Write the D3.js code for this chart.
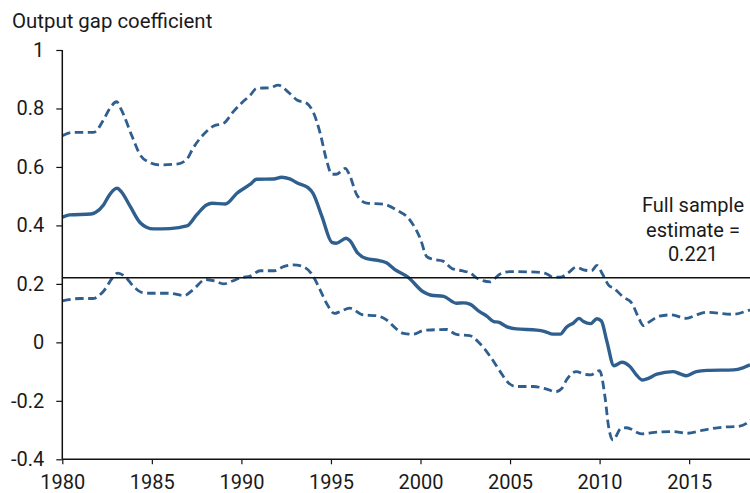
<!DOCTYPE html>
<html>
<head>
<meta charset="utf-8">
<script src="https://cdn.jsdelivr.net/npm/d3@7"></script>
<style>
  body { margin: 0; background: #fff; }
  svg text { font-family: Roboto, "Noto Sans", sans-serif; fill: #1a1a1a; }
</style>
</head>
<body>
<div id="chart"></div>
<script>
// rolling estimate of the output gap coefficient, with upper and lower bands
var midYears = [1980.0, 1980.4, 1981.6, 1981.85, 1982.3, 1982.65, 1983.05, 1983.3, 1983.8, 1984.35, 1984.7, 1985.1, 1986.0, 1986.95, 1987.5, 1988.05, 1988.35, 1989.1, 1989.75, 1990.5, 1990.85, 1991.8, 1992.25, 1992.7, 1993.15, 1993.7, 1994.0, 1994.5, 1995.05, 1995.3, 1995.85, 1996.05, 1996.5, 1996.95, 1997.75, 1998.1, 1998.55, 1999.3, 2000.15, 2000.55, 2001.3, 2002.0, 2002.4, 2002.75, 2003.3, 2003.7, 2004.1, 2004.35, 2004.8, 2005.35, 2006.5, 2006.95, 2007.4, 2007.8, 2008.15, 2008.55, 2008.85, 2009.1, 2009.5, 2009.85, 2010.1, 2010.4, 2010.8, 2011.25, 2011.7, 2012.05, 2012.4, 2012.6, 2013.2, 2014.1, 2014.5, 2014.85, 2015.4, 2016.0, 2017.5, 2018.0, 2018.4];
var midVals = [0.428, 0.436, 0.439, 0.444, 0.470, 0.506, 0.527, 0.515, 0.464, 0.409, 0.394, 0.388, 0.389, 0.398, 0.436, 0.470, 0.476, 0.473, 0.510, 0.541, 0.558, 0.559, 0.565, 0.559, 0.544, 0.530, 0.510, 0.430, 0.342, 0.339, 0.356, 0.348, 0.305, 0.287, 0.279, 0.272, 0.250, 0.223, 0.173, 0.162, 0.157, 0.134, 0.135, 0.131, 0.105, 0.090, 0.071, 0.069, 0.054, 0.046, 0.042, 0.037, 0.028, 0.028, 0.052, 0.067, 0.082, 0.071, 0.064, 0.081, 0.073, 0.005, -0.080, -0.068, -0.083, -0.111, -0.129, -0.126, -0.109, -0.100, -0.108, -0.114, -0.100, -0.096, -0.094, -0.087, -0.077];

var upYears = [1980.0, 1980.6, 1981.75, 1982.3, 1982.65, 1983.03, 1983.3, 1983.9, 1984.35, 1984.9, 1985.45, 1986.4, 1986.95, 1987.3, 1988.05, 1988.45, 1989.0, 1989.55, 1990.0, 1990.5, 1990.85, 1991.6, 1992.05, 1992.6, 1993.1, 1993.65, 1994.0, 1994.4, 1994.75, 1995.05, 1995.3, 1995.8, 1996.0, 1996.45, 1997.0, 1997.9, 1998.65, 1999.4, 2000.0, 2000.35, 2000.7, 2001.25, 2001.75, 2002.3, 2002.75, 2003.25, 2003.9, 2004.15, 2004.45, 2005.0, 2006.5, 2007.05, 2007.4, 2007.8, 2008.25, 2008.7, 2009.1, 2009.55, 2009.85, 2010.15, 2010.5, 2010.8, 2011.3, 2011.8, 2012.15, 2012.45, 2012.8, 2013.35, 2014.0, 2014.85, 2015.4, 2016.0, 2017.45, 2018.2, 2018.4];
var upVals = [0.707, 0.718, 0.718, 0.761, 0.800, 0.823, 0.795, 0.704, 0.641, 0.615, 0.607, 0.610, 0.626, 0.664, 0.721, 0.740, 0.749, 0.789, 0.818, 0.846, 0.869, 0.871, 0.880, 0.857, 0.829, 0.818, 0.789, 0.715, 0.624, 0.575, 0.575, 0.595, 0.578, 0.504, 0.476, 0.473, 0.453, 0.419, 0.353, 0.293, 0.284, 0.278, 0.253, 0.245, 0.238, 0.216, 0.207, 0.219, 0.234, 0.242, 0.240, 0.234, 0.223, 0.223, 0.238, 0.257, 0.248, 0.245, 0.263, 0.235, 0.196, 0.185, 0.156, 0.134, 0.088, 0.057, 0.071, 0.090, 0.094, 0.082, 0.094, 0.103, 0.096, 0.107, 0.111];

var loYears = [1980.0, 1981.0, 1981.7, 1982.3, 1982.8, 1983.1, 1983.5, 1984.0, 1984.5, 1985.0, 1986.0, 1986.8, 1987.3, 1988.0, 1988.5, 1989.0, 1989.5, 1990.0, 1990.5, 1991.05, 1991.85, 1992.35, 1992.9, 1993.45, 1993.9, 1994.4, 1994.75, 1995.2, 1995.5, 1996.05, 1996.8, 1997.55, 1998.1, 1998.65, 1999.05, 1999.6, 2000.2, 2001.45, 2002.0, 2002.75, 2003.3, 2003.9, 2004.45, 2004.9, 2005.35, 2006.3, 2007.05, 2007.55, 2007.9, 2008.15, 2008.7, 2009.1, 2009.5, 2010.0, 2010.3, 2010.5, 2010.75, 2011.2, 2011.5, 2012.35, 2013.2, 2014.1, 2014.85, 2015.8, 2016.9, 2017.65, 2018.2, 2018.4];
var loVals = [0.142, 0.150, 0.150, 0.175, 0.220, 0.237, 0.225, 0.190, 0.170, 0.168, 0.168, 0.160, 0.180, 0.215, 0.210, 0.200, 0.210, 0.222, 0.227, 0.245, 0.245, 0.259, 0.265, 0.259, 0.236, 0.179, 0.134, 0.099, 0.105, 0.117, 0.094, 0.091, 0.077, 0.046, 0.031, 0.028, 0.041, 0.044, 0.027, 0.023, -0.003, -0.049, -0.100, -0.138, -0.151, -0.151, -0.160, -0.169, -0.157, -0.129, -0.100, -0.108, -0.111, -0.097, -0.186, -0.288, -0.334, -0.294, -0.292, -0.313, -0.307, -0.305, -0.311, -0.300, -0.290, -0.288, -0.277, -0.265];

var fullSample = 0.221;
var noteLines = ["Full sample", "estimate =", "0.221"];
var yTicks = [-0.4, -0.2, 0, 0.2, 0.4, 0.6, 0.8, 1];
var xTicks = [1980, 1985, 1990, 1995, 2000, 2005, 2010, 2015];
var yTitle = "Output gap coefficient";

var width = 750, height = 493;
var plotLeft = 62.3, plotRight = 750, plotTop = 50, plotBottom = 459.3;
var lineColor = "#2f5f8f";

function pairs(xs, ys) {
    var n = Math.min(xs.length, ys.length);
    var out = [];
    for (let i = 0; i < n; i++) out.push({ x: xs[i], y: ys[i] });
    return out;
}

var x = d3.scaleLinear()
    .domain([1980, 1980 + (plotRight - plotLeft) / 17.91])
    .range([plotLeft, plotRight]);
var y = d3.scaleLinear().domain([-0.4, 1]).range([plotBottom, plotTop]);

var svg = d3.select("#chart")
    .append("svg")
        .attr("width", width)
        .attr("height", height);

svg.append("text")
    .attr("x", 12)
    .attr("y", 28)
    .style("font-size", "20.4px")
    .text(yTitle);

var line = d3.line()
    .x(function(d) { return x(d.x) })
    .y(function(d) { return y(d.y) })
    .curve(d3.curveMonotoneX);

var plot = svg.append("g")
    .attr("class", "lines");

plot.append("path")
    .datum(pairs(upYears, upVals))
    .attr("fill", "none")
    .attr("stroke", lineColor)
    .attr("stroke-width", 2.8)
    .attr("stroke-dasharray", "8.5,4.5")
    .attr("d", line);

plot.append("path")
    .datum(pairs(loYears, loVals))
    .attr("fill", "none")
    .attr("stroke", lineColor)
    .attr("stroke-width", 2.8)
    .attr("stroke-dasharray", "8.5,4.5")
    .attr("d", line);

plot.append("path")
    .datum(pairs(midYears, midVals))
    .attr("fill", "none")
    .attr("stroke", lineColor)
    .attr("stroke-width", 3.4)
    .attr("stroke-linejoin", "round")
    .attr("d", line);

// full sample reference line
svg.append("line")
    .attr("x1", plotLeft)
    .attr("x2", plotRight)
    .attr("y1", y(fullSample))
    .attr("y2", y(fullSample))
    .attr("stroke", "#111")
    .attr("stroke-width", 1.5);

svg.append("text")
    .attr("text-anchor", "middle")
    .style("font-size", "20px")
    .selectAll("tspan")
    .data(noteLines)
    .enter()
    .append("tspan")
        .attr("x", 693)
        .attr("y", function(d, i) { return 212 + i * 24.5 })
        .text(function(d) { return d });

// axes
var yAxis = d3.axisLeft(y)
    .tickValues(yTicks)
    .tickSize(6)
    .tickPadding(12)
    .tickFormat(function(d) { return d === 0 ? "0" : d === 1 ? "1" : d.toFixed(1) });

var xAxis = d3.axisBottom(x)
    .tickValues(xTicks)
    .tickSize(5)
    .tickPadding(11)
    .tickFormat(d3.format("d"));

var gy = svg.append("g")
    .attr("transform", "translate(" + plotLeft + ",0)")
    .call(yAxis);
var gx = svg.append("g")
    .attr("transform", "translate(0," + plotBottom + ")")
    .call(xAxis);

[gx, gy].forEach(function(g) {
    g.select(".domain").attr("stroke", "#111").attr("stroke-width", 1.5);
    g.selectAll(".tick line").attr("stroke", "#111").attr("stroke-width", 1.2);
    g.selectAll(".tick text")
        .attr("fill", "#1a1a1a")
        .style("font-family", "Roboto, 'Noto Sans', sans-serif")
        .style("font-size", "20px");
});
gy.select(".domain").attr("d", "M0," + plotTop + "V" + plotBottom);
gx.select(".domain").attr("d", "M" + plotLeft + ",0H" + plotRight);
</script>
</body>
</html>
